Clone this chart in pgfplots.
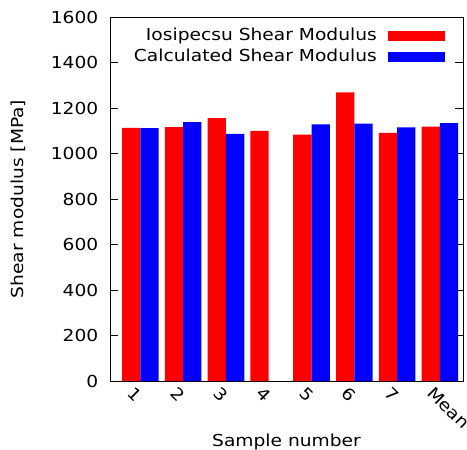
\documentclass[border=0pt]{standalone}
\usepackage{fontspec}
\setmainfont{DejaVu Sans}[FakeStretch=1.13]
\usepackage{pgfplots}
\pgfplotsset{compat=1.18}
\begin{document}
\fontsize{16.5bp}{19bp}\selectfont
\begin{tikzpicture}
\begin{axis}[
  scale only axis, width=353bp, height=364bp,
  xmin=-0.71, xmax=7.54, ymin=0, ymax=1600,
  ybar=0pt, bar width=18.3bp,
  axis line style={line width=0.9bp},
  /pgf/number format/assume math mode=true,
  /pgf/number format/1000 sep={},
  xtick={0,...,7}, xticklabels={1,2,3,4,5,6,7,Mean},
  major x tick style={draw=none},
  x tick label style={rotate=-45, anchor=north west, xshift=-6bp, yshift=-1bp},
  ytick={0,200,...,1600},
  ytick pos=both, yticklabel pos=left,
  tick align=inside, major tick length=8bp,
  tick style={line width=0.9bp, black},
  y tick label style={xshift=-6bp},
  xlabel={Sample number},
  ylabel={Shear modulus [MPa]},
  xlabel style={at={(axis description cs:0.5,-0.179)}, anchor=base},
  ylabel style={at={(axis description cs:-0.261,0.5)}, anchor=center},
  legend plot pos=right,
  legend cell align=right,
  legend image code/.code={\fill[#1,draw=none] (0bp,-5bp) rectangle (57bp,5bp);},
  legend style={draw=none, fill=none, at={(axis description cs:1,1)}, anchor=north east,
    xshift=-15bp, yshift=-7bp, row sep=2bp, column sep=9bp,
    nodes={inner sep=2bp}},
]
\addplot[fill=red, draw=none] coordinates {(0,1113) (1,1116) (2,1156) (3,1099) (4,1083) (5,1269) (6,1091) (7,1118)};
\addlegendentry{Iosipecsu Shear Modulus}
\addplot[fill=blue, draw=none] coordinates {(0,1112) (1,1138) (2,1086) (4,1128) (5,1131) (6,1115) (7,1134)};
\addlegendentry{Calculated Shear Modulus}
\end{axis}
\pgfresetboundingbox
\path (current axis.south west) ++(-110bp,-69bp) rectangle ++(467bp,450bp);
\end{tikzpicture}
\end{document}
